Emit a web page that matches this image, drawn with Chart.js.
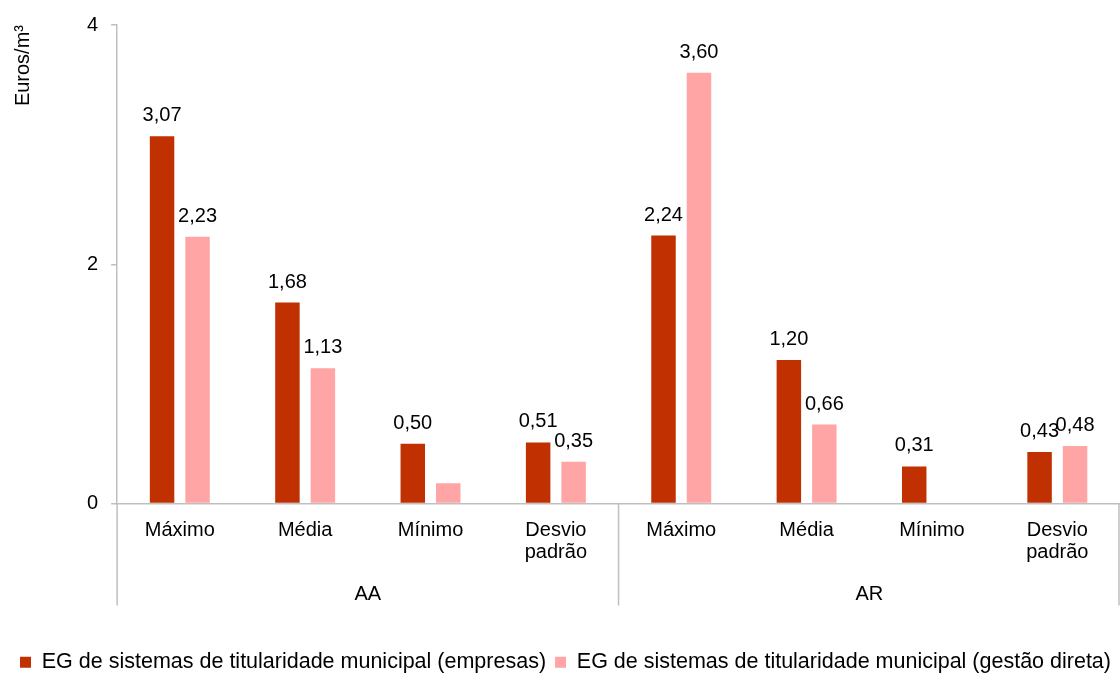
<!doctype html>
<html>

<head>
    <meta charset="utf-8">
    <title>Euros/m3</title>
    <script src="https://cdn.jsdelivr.net/npm/chart.js"></script>
    <style>
        body { margin: 0; background: #fff; }
        #caixa { width: 1120px; height: 673px; }
    </style>
</head>

<body>

    <div id="caixa">
        <canvas id="grafico"></canvas>
    </div>

    <script>
        // dados
        var grupos = ['AA', 'AR'];
        var categorias = ['Máximo', 'Média', 'Mínimo', 'Desvio padrão'];
        var empresas = [3.07, 1.68, 0.50, 0.51, 2.24, 1.20, 0.31, 0.43];
        var gestaoDireta = [2.23, 1.13, 0.17, 0.35, 3.60, 0.66, null, 0.48];
        var diretaSemRotulo = [2]; // barra pequena sem valor visivel
        var ticksY = [0, 2, 4];
        var nomesSeries = [
            'EG de sistemas de titularidade municipal (empresas)',
            'EG de sistemas de titularidade municipal (gestão direta)'
        ];

        var fonte = 'Liberation Sans, Arial, sans-serif';
        var cinza = '#bfbfbf';

        var rotulosX = [];
        grupos.forEach(function () {
            categorias.forEach(function (c) {
                rotulosX.push(c.split(' '));
            });
        });

        // rotulos de valor por cima das barras
        var rotulosValor = {
            id: 'rotulosValor',
            afterDatasetsDraw: function (chart) {
                var ctx = chart.ctx;
                ctx.save();
                ctx.font = '20px ' + fonte;
                ctx.fillStyle = '#000';
                ctx.textAlign = 'center';
                ctx.textBaseline = 'alphabetic';
                chart.data.datasets.forEach(function (ds, d) {
                    var meta = chart.getDatasetMeta(d);
                    meta.data.forEach(function (barra, i) {
                        var v = ds.data[i];
                        if (v == null) return;
                        if (d == 1 && diretaSemRotulo.indexOf(i) >= 0) return;
                        ctx.fillText(v.toFixed(2).replace('.', ','), barra.x, barra.y - 15);
                    });
                });
                ctx.restore();
            }
        };

        // linhas verticais do eixo de categorias agrupado
        var separadores = {
            id: 'separadores',
            afterDraw: function (chart) {
                var x = chart.scales.x;
                var ctx = chart.ctx;
                var passo = (x.right - x.left) / rotulosX.length;
                var topo = chart.chartArea.bottom;
                ctx.save();
                ctx.strokeStyle = cinza;
                ctx.lineWidth = 1.5;
                for (var g = 0; g <= grupos.length; g++) {
                    var px = x.left + g * categorias.length * passo;
                    if (g == grupos.length) px = Math.min(px, chart.width - 1);
                    ctx.beginPath();
                    ctx.moveTo(px, topo);
                    ctx.lineTo(px, topo + 102);
                    ctx.stroke();
                }
                ctx.restore();
            }
        };

        var grafico = new Chart(document.getElementById('grafico').getContext('2d'), {
            type: 'bar',
            data: {
                labels: rotulosX,
                datasets: [{
                    label: nomesSeries[0],
                    data: empresas,
                    backgroundColor: '#c03000',
                    borderWidth: 0
                }, {
                    label: nomesSeries[1],
                    data: gestaoDireta,
                    backgroundColor: '#ffa5a5',
                    borderWidth: 0
                }]
            },
            options: {
                responsive: true,
                maintainAspectRatio: false,
                animation: false,
                categoryPercentage: 0.566,
                barPercentage: 0.69,
                layout: {
                    padding: { top: 6, right: 0, bottom: -10, left: 11 }
                },
                plugins: {
                    tooltip: { enabled: false },
                    legend: {
                        position: 'bottom',
                        labels: {
                            boxWidth: 11,
                            boxHeight: 11,
                            padding: 9,
                            color: '#000',
                            font: { family: fonte, size: 21.5 }
                        }
                    }
                },
                scales: {
                    x: {
                        grid: { display: false },
                        border: { color: cinza, width: 1.5 },
                        ticks: {
                            color: '#000',
                            autoSkip: false,
                            maxRotation: 0,
                            padding: 8,
                            font: { family: fonte, size: 20, lineHeight: 1.1 }
                        }
                    },
                    x2: {
                        type: 'category',
                        labels: grupos,
                        position: 'bottom',
                        offset: true,
                        grid: { display: false },
                        border: { display: false },
                        ticks: {
                            color: '#000',
                            padding: 3,
                            font: { family: fonte, size: 20 }
                        },
                        afterFit: function (eixo) {
                            eixo.height += 33; // espaco ate a legenda
                        }
                    },
                    y: {
                        min: 0,
                        max: 4,
                        afterBuildTicks: function (eixo) {
                            eixo.ticks = ticksY.map(function (v) { return { value: v }; });
                        },
                        grid: {
                            drawOnChartArea: false,
                            drawTicks: true,
                            tickLength: 6,
                            color: cinza,
                            lineWidth: 1.5
                        },
                        border: { color: cinza, width: 1.5 },
                        ticks: {
                            color: '#000',
                            padding: 13,
                            font: { family: fonte, size: 20 }
                        },
                        title: {
                            display: true,
                            text: 'Euros/m³',
                            align: 'end',
                            color: '#000',
                            padding: { top: 0, bottom: 39 },
                            font: { family: fonte, size: 20 }
                        }
                    }
                }
            },
            plugins: [rotulosValor, separadores]
        });
    </script>
</body>

</html>
